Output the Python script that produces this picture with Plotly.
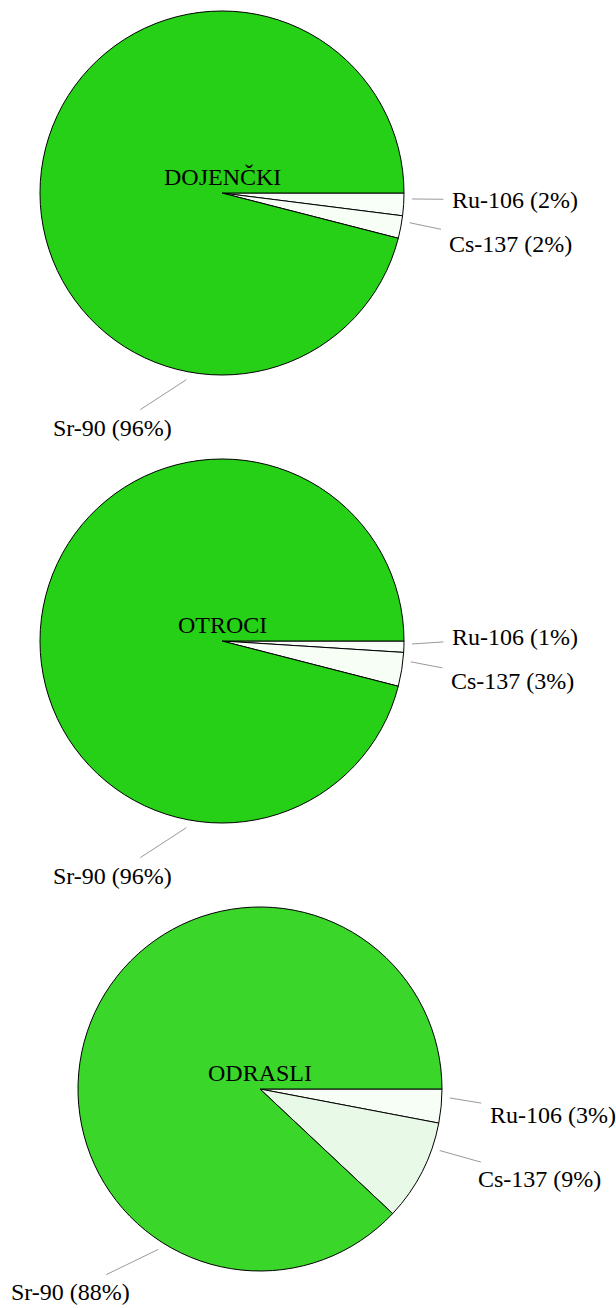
import math
import plotly.graph_objects as go

# Share of each radionuclide in the dose, per age group (percent)
groups = ["DOJENČKI", "OTROCI", "ODRASLI"]
nuclides = ["Ru-106", "Cs-137", "Sr-90"]
shares_dojencki = [2, 2, 96]
shares_otroci = [1, 3, 96]
shares_odrasli = [3, 9, 88]

colors_dojencki = ["#f8fff8", "#f6fef5", "#26d016"]
colors_otroci = ["#f8fff8", "#f6fef5", "#26d016"]
colors_odrasli = ["#f6fef6", "#e9f9e7", "#3ad62a"]

all_shares = [shares_dojencki, shares_otroci, shares_odrasli]
all_colors = [colors_dojencki, colors_otroci, colors_odrasli]

# Page geometry (pixels)
W, H = 616, 1308
RADIUS = 182
CENTERS = [(222, 193), (222, 641), (260, 1089)]

FONT = "Liberation Serif"
FS = 24
# Advance widths (1/1000 em) of the serif face, used to size label boxes
ADV = {" ": 250, "(": 333, ")": 333, "%": 833, "-": 333, "C": 667, "R": 667,
       "S": 556, "r": 333, "s": 389, "u": 500}


def text_width(txt):
    return sum(ADV.get(ch, 500) for ch in txt) * FS / 1000.0


fig = go.Figure()
annotations = []

for group, vals, cols, (cx, cy) in zip(groups, all_shares, all_colors, CENTERS):
    fig.add_trace(go.Pie(
        labels=nuclides,
        values=vals,
        marker=dict(colors=cols, line=dict(color="black", width=1)),
        sort=False,
        direction="clockwise",
        rotation=90,
        textinfo="none",
        hoverinfo="skip",
        domain=dict(x=[(cx - RADIUS) / W, (cx + RADIUS) / W],
                    y=[1 - (cy + RADIUS) / H, 1 - (cy - RADIUS) / H]),
    ))

    # group name in the middle of the pie
    annotations.append(dict(
        x=cx / W, y=1 - (cy - 16) / H, xref="paper", yref="paper",
        text=group, showarrow=False, xanchor="center", yanchor="middle",
        font=dict(family=FONT, size=FS, color="black"),
    ))

    # outer labels with leader lines
    total = float(sum(vals))
    start = 0.0
    labs = []
    for name, v in zip(nuclides, vals):
        sweep = 360.0 * v / total
        theta = math.radians(start + sweep / 4.0)
        start += sweep
        c, s = math.cos(theta), math.sin(theta)
        txt = f"{name} ({v}%)"
        hw = text_width(txt) / 2.0
        hx, hy = cx + (RADIUS + 8) * c, cy + (RADIUS + 8) * s
        if c >= 0:
            tx = cx + (RADIUS + 48) * c + hw
            ty = cy + (RADIUS + 48) * s + 15
        else:
            tx = cx + (RADIUS + 48) * c - hw - 7
            ty = cy + (RADIUS + 48) * s + 9
        labs.append([txt, hx, hy, tx, ty, c >= 0])

    # push right-hand labels apart when they crowd each other
    right = sorted([l for l in labs if l[5]], key=lambda l: l[4], reverse=True)
    for lower, upper in zip(right, right[1:]):
        if lower[4] - upper[4] < 44:
            upper[4] = lower[4] - 44

    for txt, hx, hy, tx, ty, _ in labs:
        annotations.append(dict(
            x=hx / W, y=1 - hy / H, xref="paper", yref="paper",
            ax=tx - hx, ay=ty - hy, axref="pixel", ayref="pixel",
            text=txt, showarrow=True, arrowhead=0, arrowwidth=1,
            arrowcolor="#9a9a9a", standoff=0, startstandoff=7,
            font=dict(family=FONT, size=FS, color="black"),
        ))

fig.update_layout(
    width=W, height=H,
    margin=dict(l=0, r=0, t=0, b=0),
    paper_bgcolor="white",
    plot_bgcolor="white",
    showlegend=False,
    annotations=annotations,
)

fig.write_html("out.html")
